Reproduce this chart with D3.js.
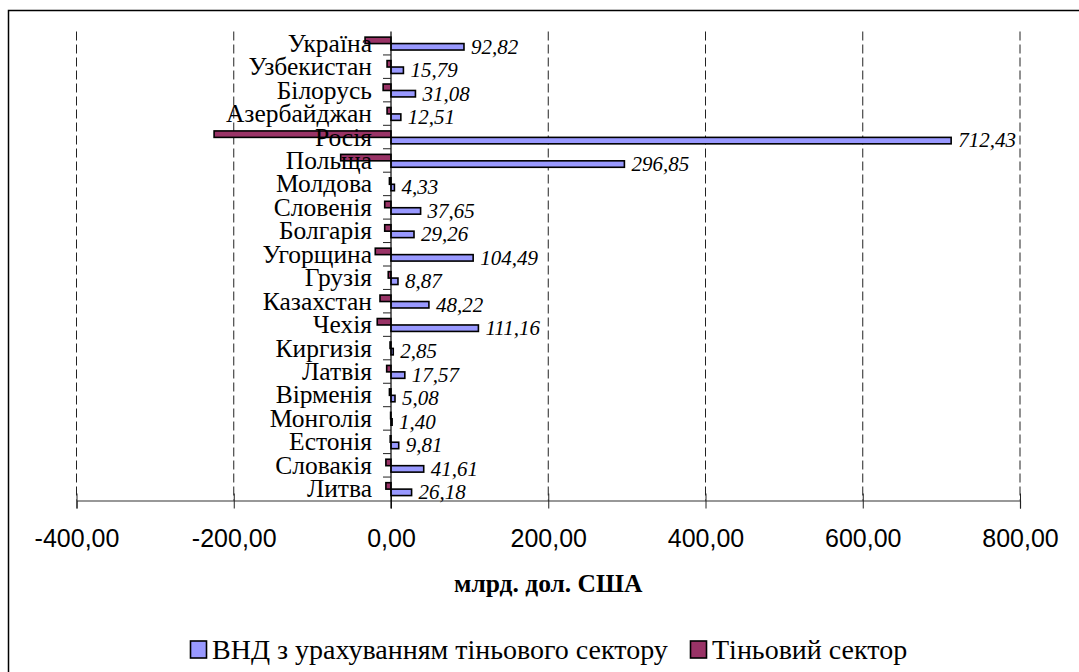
<!DOCTYPE html>
<html>
<head>
<meta charset="utf-8">
<script src="https://cdn.jsdelivr.net/npm/d3@7/dist/d3.min.js"></script>
<style>
  html, body { margin: 0; padding: 0; background: #fff; }
  svg { display: block; }
  .serif { font-family: "Liberation Serif", "Times New Roman", serif; }
  .sans { font-family: "Liberation Sans", Arial, sans-serif; }
</style>
</head>
<body>
<svg id="chart" width="1079" height="672"></svg>
<script>
const countries = ["Україна","Узбекистан","Білорусь","Азербайджан","Росія","Польща","Молдова","Словенія","Болгарія","Угорщина","Грузія","Казахстан","Чехія","Киргизія","Латвія","Вірменія","Монголія","Естонія","Словакія","Литва"];
const gniWithShadow = [92.82,15.79,31.08,12.51,712.43,296.85,4.33,37.65,29.26,104.49,8.87,48.22,111.16,2.85,17.57,5.08,1.40,9.81,41.61,26.18];
const shadowSector = [-33,-5,-10,-5,-225,-64,-2,-8,-8,-20,-3.5,-14,-17.5,-1.2,-5.5,-2,-0.5,-1,-6.5,-6.5];
const xTicks = [-400,-200,0,200,400,600,800];
const seriesNames = ["ВНД з урахуванням тіньового сектору","Тіньовий сектор"];
const seriesColors = ["#9999FF","#993366"];
const axisTitle = "млрд. дол. США";

const locale = d3.formatLocale({decimal:",", thousands:" ", grouping:[3], currency:["",""], minus:"-"});
const fmt = locale.format(".2f");

const svg = d3.select("#chart");

// outer frame
svg.append("rect").attr("x",8.5).attr("y",10.5).attr("width",1100).attr("height",700)
  .attr("fill","none").attr("stroke","#000").attr("stroke-width",1.5);

const x = d3.scaleLinear().domain([-400,800]).range([76.5,1020]);
const y = d3.scaleBand().domain(countries).range([31.5,500.5]).padding(0);
const sub = d3.scaleBand().domain(["shadow","gni"]).range([y.bandwidth()*0.24, y.bandwidth()*0.79]).padding(0);

// gridlines
svg.append("g").selectAll("line").data(xTicks.filter(d=>d!==0)).join("line")
  .attr("x1",d=>x(d)).attr("x2",d=>x(d)).attr("y1",31.5).attr("y2",500.5)
  .attr("stroke","#222").attr("stroke-width",1).attr("stroke-dasharray","9,4");

// x axis
const xAxis = svg.append("g").attr("transform","translate(0,500.5)")
  .call(d3.axisBottom(x).tickValues(xTicks).tickFormat(fmt).tickSizeOuter(0).tickSize(8));
xAxis.attr("font-family",null).attr("font-size",null);
xAxis.select(".domain").attr("stroke","#333").attr("stroke-width",1.2);
xAxis.selectAll(".tick line").attr("y1",-7).attr("y2",8).attr("stroke","#222");
xAxis.selectAll(".tick text").attr("y",46.5).attr("dy",0).attr("class","sans")
  .style("font-size","25px").attr("fill","#000");

// bars
const rows = countries.map((c,i)=>({c, gni:gniWithShadow[i], sh:shadowSector[i]}));
const gBars = svg.append("g");
gBars.selectAll("rect.sh").data(rows).join("rect").attr("class","sh")
  .attr("x",d=>x(Math.min(0,d.sh))).attr("width",d=>Math.abs(x(d.sh)-x(0)))
  .attr("y",d=>y(d.c)+sub("shadow")).attr("height",sub.bandwidth())
  .attr("fill",seriesColors[1]).attr("stroke","#000").attr("stroke-width",1.6);
gBars.selectAll("rect.gni").data(rows).join("rect").attr("class","gni")
  .attr("x",x(0)).attr("width",d=>x(d.gni)-x(0))
  .attr("y",d=>y(d.c)+sub("gni")).attr("height",sub.bandwidth())
  .attr("fill",seriesColors[0]).attr("stroke","#000").attr("stroke-width",1.6);

// y axis (category) line and ticks at band boundaries
const yAxis = svg.append("g").attr("transform",`translate(${x(0)},0)`)
  .call(d3.axisLeft(y).tickSize(0).tickSizeOuter(0).tickFormat(""));
yAxis.select(".domain").attr("stroke","#000").attr("stroke-width",1.2)
  .attr("d",`M0,31.5V508.5`);
yAxis.append("g").selectAll("line").data(countries.slice(1)).join("line")
  .attr("x1",-8).attr("x2",0).attr("y1",d=>y(d)).attr("y2",d=>y(d))
  .attr("stroke","#222");

// category labels
svg.append("g").selectAll("text").data(countries).join("text")
  .attr("class","serif")
  .attr("x",372).attr("y",d=>y(d)+y.bandwidth()/2+8.5)
  .attr("text-anchor","end").style("font-size","25.5px")
  .text(d=>d);

// value labels
svg.append("g").selectAll("text").data(rows).join("text")
  .attr("class","serif")
  .attr("x",d=>x(d.gni)+7).attr("y",d=>y(d.c)+sub("gni")+sub.bandwidth()/2+6.8)
  .style("font-style","italic").style("font-size","21px")
  .text(d=>fmt(d.gni));

// axis title
svg.append("text").attr("class","serif").attr("x",(x(-400)+x(800))/2).attr("y",592)
  .attr("text-anchor","middle").style("font-weight","bold")
  .style("font-size","25.5px").text(axisTitle);

// legend
const legendItems = [
  {name:seriesNames[0], color:seriesColors[0], sx:190, tx:212},
  {name:seriesNames[1], color:seriesColors[1], sx:690, tx:712}
];
const lg = svg.append("g");
lg.selectAll("rect").data(legendItems).join("rect")
  .attr("x",d=>d.sx+0.5).attr("y",641).attr("width",16).attr("height",17)
  .attr("fill",d=>d.color).attr("stroke","#000").attr("stroke-width",1.6);
lg.selectAll("text").data(legendItems).join("text")
  .attr("class","serif")
  .attr("x",d=>d.tx).attr("y",658.5).style("font-size","28px")
  .text(d=>d.name);
</script>
</body>
</html>
